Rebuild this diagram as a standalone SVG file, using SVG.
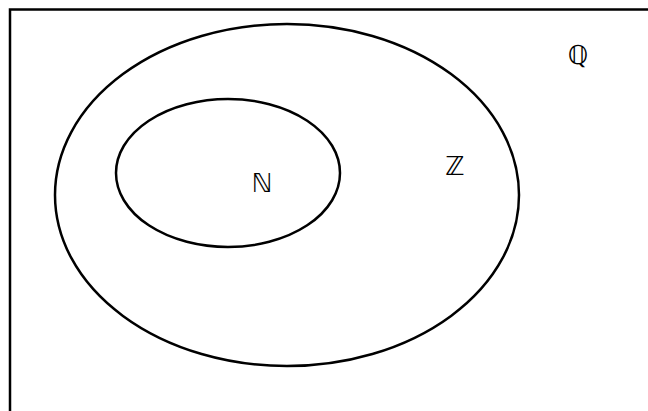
<svg xmlns="http://www.w3.org/2000/svg" width="648" height="411" viewBox="0 0 648 411">
<style>
.b{fill:none;stroke:#000;stroke-width:2.5}
.t{font-family:"DejaVu Sans","Noto Sans",sans-serif;font-size:26px;fill:#000;text-anchor:middle}
</style>
<rect width="648" height="411" fill="#fff"/>
<g id="Q">
<rect class="b" x="10" y="9.5" width="660" height="420"/>
<text class="t" x="578" y="64">ℚ</text>
</g>
<g id="Z">
<ellipse class="b" cx="287" cy="195" rx="232" ry="171"/>
<text class="t" x="455" y="175">ℤ</text>
</g>
<g id="N">
<ellipse class="b" cx="228" cy="173" rx="112" ry="74"/>
<text class="t" x="262" y="192">ℕ</text>
</g>
<g id="connectors"></g>
</svg>
